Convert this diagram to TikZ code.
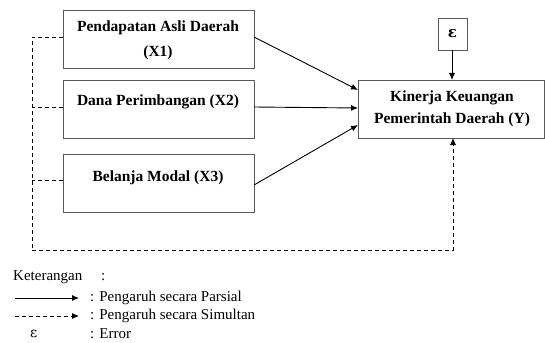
\documentclass[tikz,border=0pt]{standalone}
\usepackage{fontspec}
\setmainfont{Liberation Serif}
\usetikzlibrary{arrows.meta}
\begin{document}
\begin{tikzpicture}[x=1pt,y=-1pt,
  box/.style={draw=black!65,line width=0.7pt},
  lbl/.style={font=\bfseries\fontsize{15.5}{25}\selectfont,align=center,inner sep=0pt},
  arr/.style={line width=0.9pt,-{Latex[length=7pt,width=6pt]}},
  darr/.style={line width=0.9pt,dash pattern=on 4pt off 3pt,-{Latex[length=7pt,width=6pt]}},
  dln/.style={line width=0.9pt,dash pattern=on 4pt off 3pt},
  leg/.style={font=\fontsize{15}{17}\selectfont,anchor=west,inner sep=0pt}]
\useasboundingbox (0,0) rectangle (545,342);
% boxes
\draw[box] (63,10) rectangle (254,68);
\node[lbl] (x1) at (158,40.5) {Pendapatan Asli Daerah\\(X1)};
\coordinate (x1r) at (254,37);
\draw[box] (63,80) rectangle (254,138);
\node[lbl] (x2) at (158,102) {Dana Perimbangan (X2)};
\coordinate (x2r) at (254,107);
\draw[box] (63,154) rectangle (254,212);
\node[lbl] (x3) at (158,178) {Belanja Modal (X3)};
\coordinate (x3r) at (254,185);
\draw[box] (358,80) rectangle (544.6,138);
\node[lbl,font=\bfseries\fontsize{15.5}{22}\selectfont] (y) at (452,108.5) {Kinerja Keuangan\\Pemerintah Daerah (Y)};
\draw[box] (438,18) rectangle (467,50);
\node[lbl] (e) at (452.5,34) {\fontspec{DejaVu Serif}\bfseries\fontsize{15}{17}\selectfont ɛ};
% coordinates
\coordinate (ytop) at (452,80);
\coordinate (ebot) at (452,50);
\coordinate (yl1) at (358,90);
\coordinate (yl2) at (358,108);
\coordinate (yl3) at (358,125);
\coordinate (ybot) at (453,138);
\coordinate (c1) at (32,37);
\coordinate (c2) at (32,107);
\coordinate (c3) at (32,180);
\coordinate (cb) at (32,250);
\coordinate (cr) at (453,250);
% solid arrows
\draw[arr] (x1r) -- (yl1);
\draw[arr] (x2r) -- (yl2);
\draw[arr] (x3r) -- (yl3);
\draw[arr] (ebot) -- (ytop);
% dashed
\draw[dln] (63,37) -- (c1) -- (cb);
\draw[dln] (63,107) -- (c2);
\draw[dln] (63,180) -- (c3);
\draw[darr] (cb) -- (cr) -- (ybot);
% legend
\node[leg] (k) at (13,277) {Keterangan};
\node[leg] (kc) at (101,277) {:};
\coordinate (l1a) at (15,298);
\coordinate (l1b) at (79,298);
\draw[arr] (l1a) -- (l1b);
\node[leg] (t1) at (90,298) {: Pengaruh secara Parsial};
\coordinate (l2a) at (15,316);
\coordinate (l2b) at (79,316);
\draw[darr] (l2a) -- (l2b);
\node[leg] (t2) at (90,316) {: Pengaruh secara Simultan};
\node[leg] (ee) at (30,334) {\fontspec{DejaVu Serif}\fontsize{14}{16}\selectfont ɛ};
\node[leg] (t3) at (90,334) {: Error};
\end{tikzpicture}
\end{document}
